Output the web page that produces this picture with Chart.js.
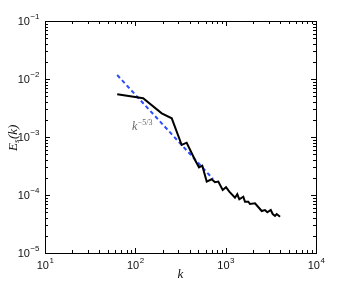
<!DOCTYPE html>
<html>
<head>
<meta charset="utf-8">
<script src="https://cdn.jsdelivr.net/npm/chart.js@4/dist/chart.umd.min.js"></script>
<style>
  body { margin: 0; background: #fff; }
  canvas { display: block; }
</style>
</head>
<body>
<canvas id="spectre" width="349" height="285"></canvas>
<script>
const kSpectre = [63, 122, 196, 253, 326, 370, 458, 507, 551, 617, 700, 762, 829, 927,
    1009, 1097, 1268, 1345, 1416, 1568, 1637, 1782, 1858, 2113, 2506, 2724, 2891, 3155,
    3318, 3517, 3673, 3999];
const eSpectre = [5.45e-3, 4.65e-3, 2.56e-3, 2.1e-3, 7.28e-4, 7.97e-4, 4.01e-4, 3.0e-4,
    3.2e-4, 1.7e-4, 1.87e-4, 1.66e-4, 1.7e-4, 1.22e-4, 1.36e-4, 1.14e-4, 8.98e-5, 1.03e-4,
    8.43e-5, 9.35e-5, 7.66e-5, 7.66e-5, 7.0e-5, 7.2e-5, 5.3e-5, 5.51e-5, 5.03e-5, 5.51e-5,
    4.7e-5, 4.35e-5, 4.7e-5, 4.22e-5];

// pente de référence k^-5/3 (deux extrémités)
const kPente = [63, 724];
const ePente = [1.17e-2, 1.89e-4];

// graduations (décades) et sous-graduations
const xDecades = [1, 2, 3, 4];
const yDecades = [-1, -2, -3, -4, -5];
const sousGrad = [1, 2, 3, 4, 5, 6, 7, 8, 9];

// texte de l'annotation
const annotK = 94;
const annotE = 1.55e-3;

function points(xs, ys) {
    return xs.map((x, i) => ({ x: x, y: ys[i] }));
}

// valeurs 1..9 x 10^n sur chaque décade
function valeursLog(decades) {
    const lo = Math.min(...decades), hi = Math.max(...decades);
    const t = [];
    for (let d = lo; d <= hi; d++) {
        sousGrad.forEach(m => {
            if (d === hi && m > 1) return;
            t.push({ value: m * Math.pow(10, d), major: m === 1 });
        });
    }
    return t;
}

function puissance(ctx, x, y, exp, align) {
    ctx.font = '11px "Liberation Sans", Arial, sans-serif';
    const wBase = ctx.measureText('10').width;
    ctx.font = '8px "Liberation Sans", Arial, sans-serif';
    const wExp = ctx.measureText(exp).width;
    let x0 = align === 'right' ? x - wBase - wExp : x - (wBase + wExp) / 2;
    ctx.textAlign = 'left';
    ctx.textBaseline = 'middle';
    ctx.font = '11px "Liberation Sans", Arial, sans-serif';
    ctx.fillText('10', x0, y + 1);
    ctx.font = '8px "Liberation Sans", Arial, sans-serif';
    ctx.fillText(exp, x0 + wBase + 0.5, y - 4);
}

// cadre, graduations internes et libellés façon MATLAB
const cadre = {
    id: 'cadre',
    afterDraw(chart) {
        const ctx = chart.ctx;
        const a = chart.chartArea;
        const sx = chart.scales.x, sy = chart.scales.y;
        ctx.save();
        ctx.setLineDash([]);
        ctx.strokeStyle = '#000';
        ctx.lineWidth = 1;
        ctx.strokeRect(a.left + 0.5, a.top + 0.5, a.right - a.left, a.bottom - a.top);

        ctx.beginPath();
        valeursLog(xDecades).forEach(t => {
            const px = Math.round(sx.getPixelForValue(t.value)) + 0.5;
            const len = t.major ? 5 : 3;
            ctx.moveTo(px, a.bottom); ctx.lineTo(px, a.bottom - len);
            ctx.moveTo(px, a.top); ctx.lineTo(px, a.top + len);
        });
        valeursLog(yDecades).forEach(t => {
            const py = Math.round(sy.getPixelForValue(t.value)) + 0.5;
            const len = t.major ? 5 : 3;
            ctx.moveTo(a.left, py); ctx.lineTo(a.left + len, py);
            ctx.moveTo(a.right, py); ctx.lineTo(a.right - len, py);
        });
        ctx.stroke();

        ctx.fillStyle = '#111';
        xDecades.forEach(d => {
            puissance(ctx, sx.getPixelForValue(Math.pow(10, d)), a.bottom + 12, String(d), 'center');
        });
        yDecades.forEach(d => {
            puissance(ctx, a.left - 6, sy.getPixelForValue(Math.pow(10, d)), '\u2212' + Math.abs(d), 'right');
        });

        // titres des axes
        ctx.font = 'italic 13px "Liberation Serif", "DejaVu Serif", serif';
        ctx.textAlign = 'center';
        ctx.textBaseline = 'middle';
        ctx.fillText('k', (a.left + a.right) / 2, 275);

        ctx.save();
        ctx.translate(14, 138);
        ctx.rotate(-Math.PI / 2);
        ctx.textAlign = 'left';
        ctx.font = 'italic 13px "Liberation Serif", "DejaVu Serif", serif';
        const wE = ctx.measureText('E').width;
        ctx.font = 'italic 9px "Liberation Serif", "DejaVu Serif", serif';
        const wS = ctx.measureText('s').width;
        ctx.font = 'italic 13px "Liberation Serif", "DejaVu Serif", serif';
        const wK = ctx.measureText('(k)').width;
        let x0 = -(wE + wS + wK) / 2;
        ctx.fillText('E', x0, 0);
        ctx.font = 'italic 9px "Liberation Serif", "DejaVu Serif", serif';
        ctx.fillText('s', x0 + wE, 3);
        ctx.font = 'italic 13px "Liberation Serif", "DejaVu Serif", serif';
        ctx.fillText('(k)', x0 + wE + wS + 0.5, 0);
        ctx.restore();

        // annotation k^-5/3
        const ax = sx.getPixelForValue(annotK);
        const ay = sy.getPixelForValue(annotE);
        ctx.fillStyle = '#666';
        ctx.textAlign = 'left';
        ctx.textBaseline = 'alphabetic';
        ctx.font = 'italic 12px "Liberation Serif", "DejaVu Serif", serif';
        ctx.fillText('k', ax - 1, ay + 4);
        const wk = ctx.measureText('k').width;
        ctx.font = '8px "Liberation Serif", "DejaVu Serif", serif';
        ctx.fillText('\u22125/3', ax - 1 + wk + 0.5, ay - 1);
        ctx.restore();
    }
};

new Chart(document.getElementById('spectre'), {
    type: 'line',
    data: {
        datasets: [
            {
                label: 'E_s(k)',
                data: points(kSpectre, eSpectre),
                borderColor: '#000',
                borderWidth: 2,
                pointRadius: 0,
                fill: false,
                tension: 0,
            },
            {
                label: 'k^-5/3',
                data: points(kPente, ePente),
                borderColor: '#2b4cff',
                borderWidth: 2,
                borderDash: [4, 3],
                pointRadius: 0,
                fill: false,
            }
        ]
    },
    options: {
        responsive: false,
        animation: false,
        layout: { padding: { left: 45, right: 33, top: 21, bottom: 32 } },
        plugins: {
            legend: { display: false },
            tooltip: { enabled: false },
        },
        scales: {
            x: {
                type: 'logarithmic',
                min: 10, max: 10000,
                grid: { display: false },
                border: { display: false },
                ticks: { display: false },
                afterFit: s => { s.height = 0; },
            },
            y: {
                type: 'logarithmic',
                min: 1e-5, max: 1e-1,
                grid: { display: false },
                border: { display: false },
                ticks: { display: false },
                afterFit: s => { s.width = 0; },
            }
        }
    },
    plugins: [cadre]
});
</script>
</body>
</html>
